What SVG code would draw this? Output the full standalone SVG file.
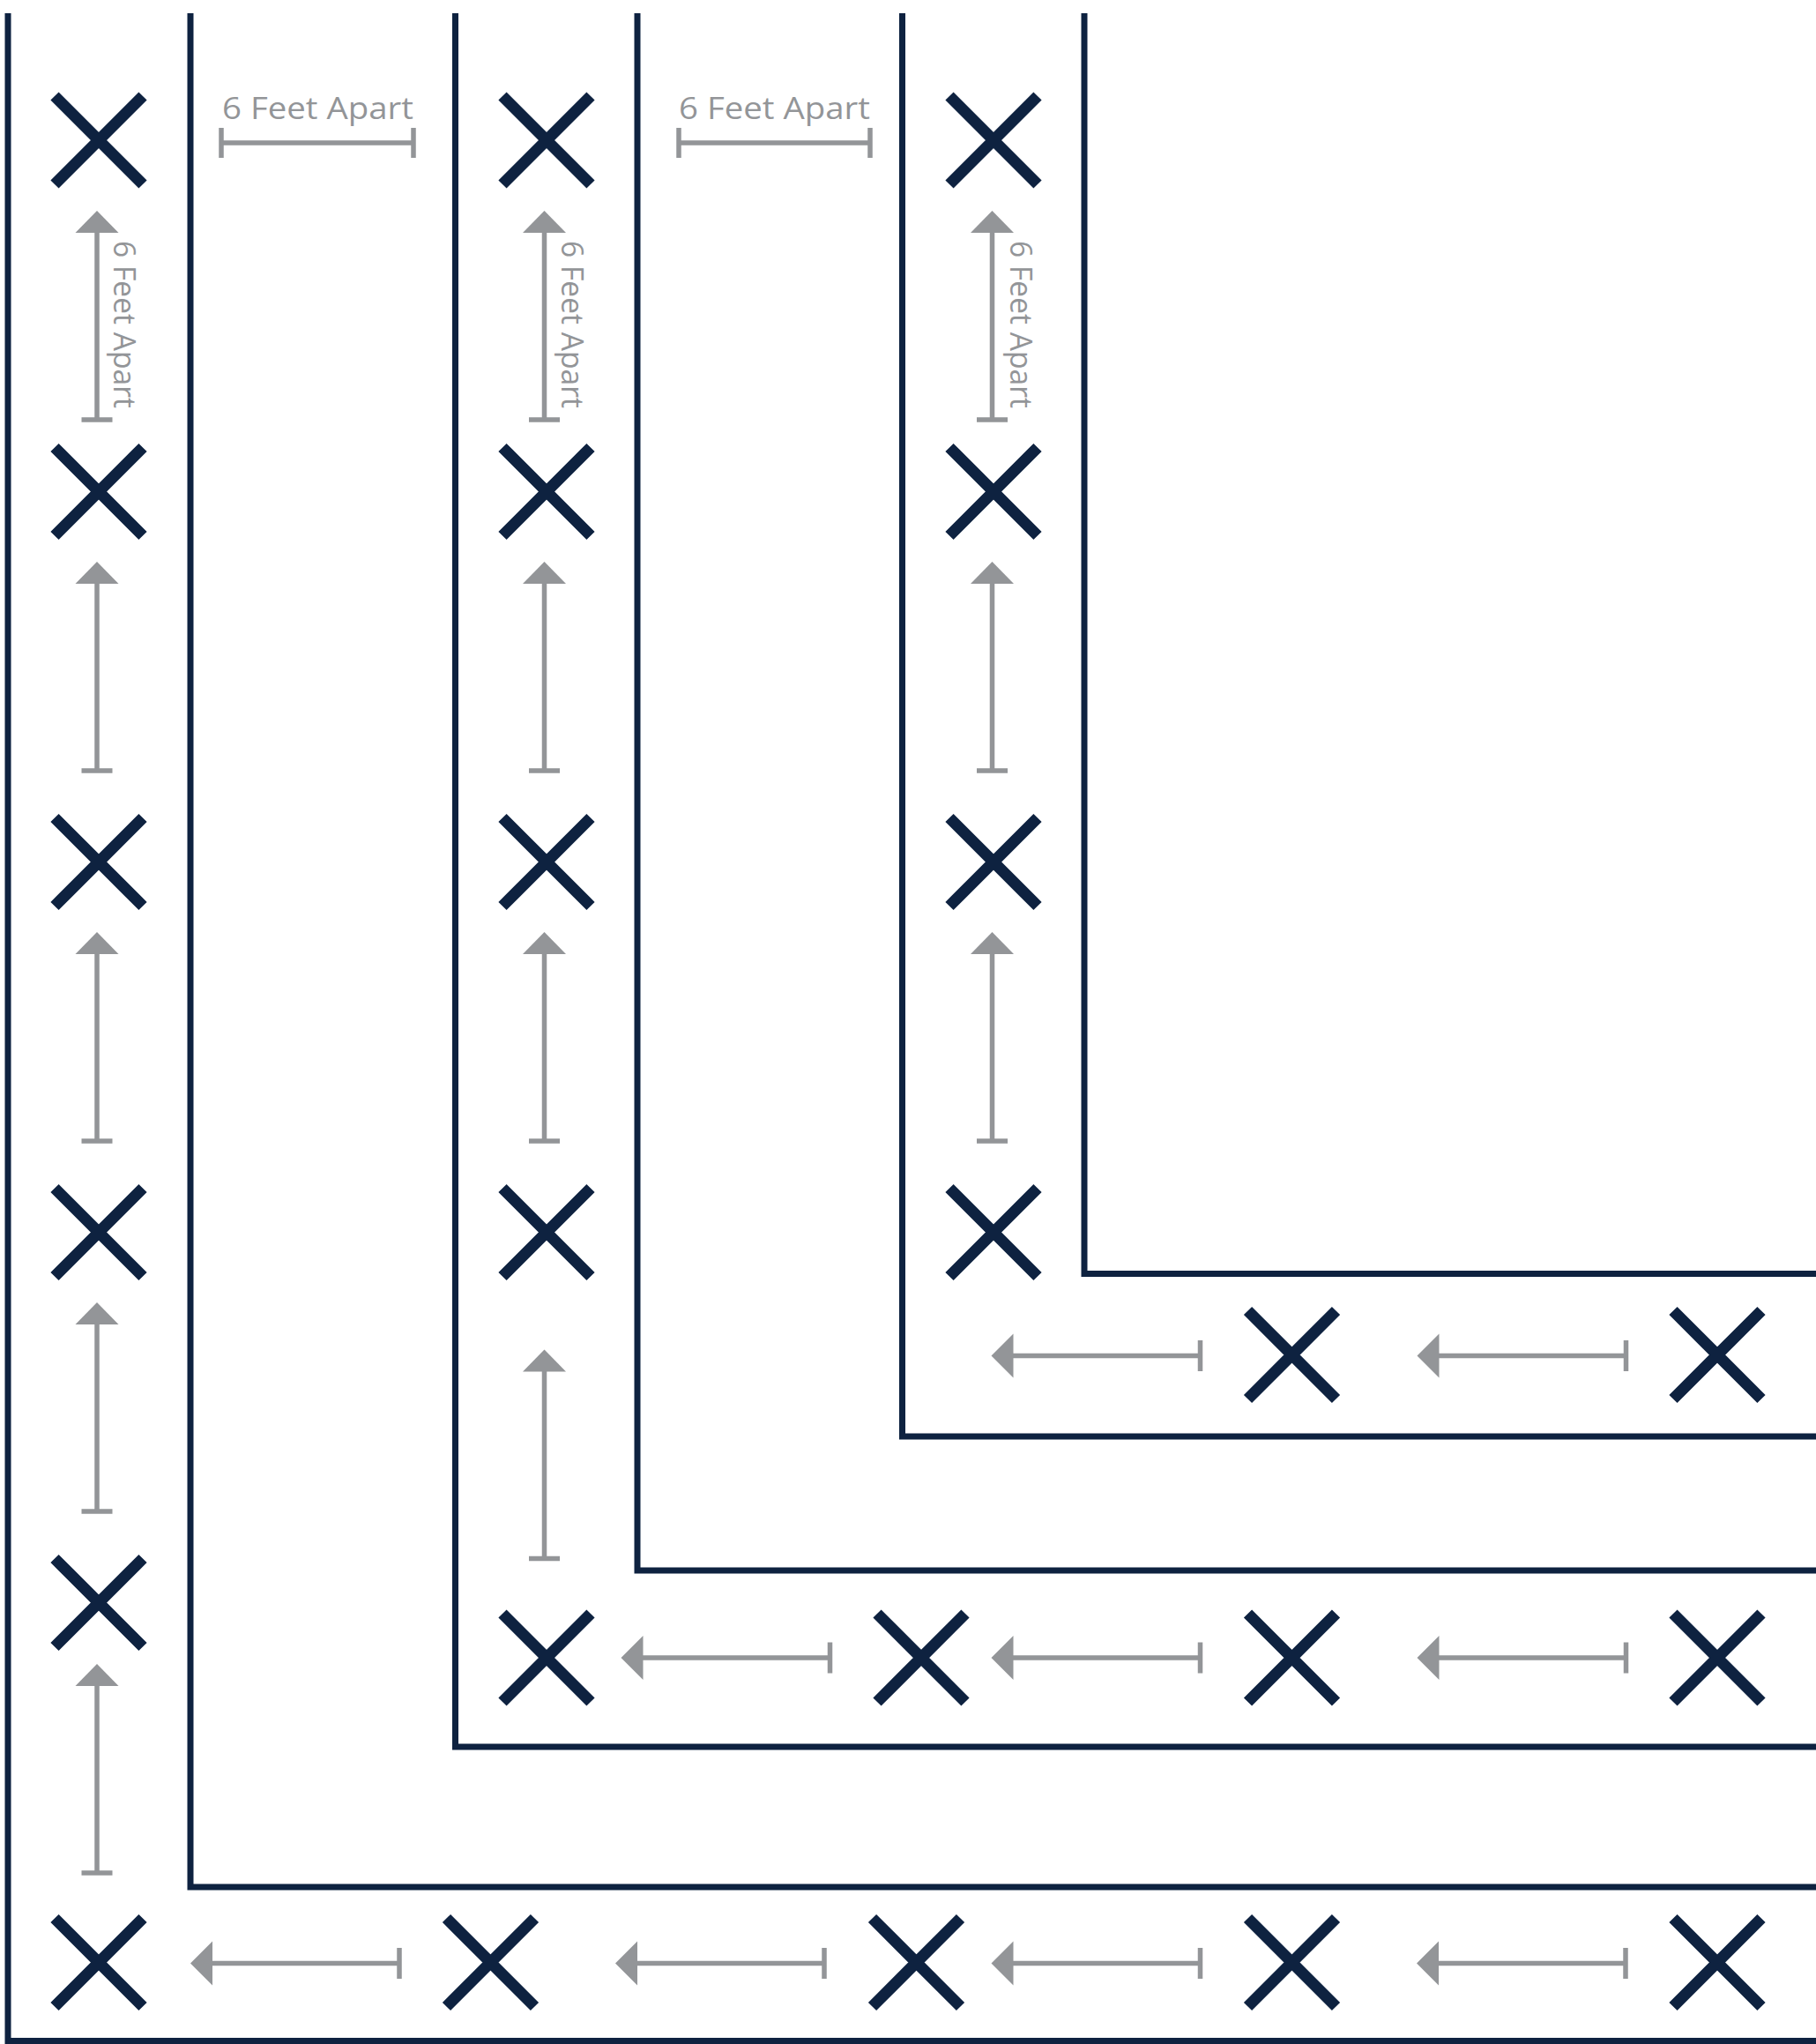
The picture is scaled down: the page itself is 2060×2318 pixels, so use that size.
<svg xmlns="http://www.w3.org/2000/svg" xmlns:xlink="http://www.w3.org/1999/xlink" width="2060" height="2318" viewBox="0 0 2060 2318">
<style>
.wall{fill:none;stroke:#0e2240;stroke-width:7;stroke-linejoin:miter;stroke-linecap:butt}
.xm{fill:none;stroke:#0e2240;stroke-width:13;stroke-linecap:butt}
.gl{fill:none;stroke:#939598;stroke-width:5.5;stroke-linecap:butt}
.gh{fill:#939598;stroke:none}
.lbl{font-family:"Open Sans","Liberation Sans",sans-serif;font-size:35px;fill:#939598}
</style>
<defs>
<path id="xmark" class="xm" d="M-50,-50 L50,50 M50,-50 L-50,50"/>
<g id="arrowUp"><path class="gh" d="M0,0 L24.5,25 L-24.5,25 Z"/><path class="gl" d="M0,24 V237 M-17.5,237 H17.5"/></g>
<g id="arrowLeft"><path class="gh" d="M0,0 L25,-25 L25,25 Z"/><path class="gl" d="M24,0 H237 M237,-17.5 V17.5"/></g>
</defs>
<rect width="2060" height="2318" fill="#ffffff"/>
<g id="walls">
<path class="wall" d="M9,15 V2314.5 H2060"/>
<path class="wall" d="M216,15 V2140 H2060"/>
<path class="wall" d="M516.5,15 V1981 H2060"/>
<path class="wall" d="M723,15 V1781 H2060"/>
<path class="wall" d="M1023.5,15 V1629 H2060"/>
<path class="wall" d="M1230,15 V1444.5 H2060"/>
</g>
<g id="marks">
<g id="lane1-x">
<use xlink:href="#xmark" href="#xmark" x="112" y="159"/>
<use xlink:href="#xmark" href="#xmark" x="112" y="557.5"/>
<use xlink:href="#xmark" href="#xmark" x="112" y="977.5"/>
<use xlink:href="#xmark" href="#xmark" x="112" y="1397.5"/>
<use xlink:href="#xmark" href="#xmark" x="112" y="1817.5"/>
<use xlink:href="#xmark" href="#xmark" x="112" y="2225.5"/>
<use xlink:href="#xmark" href="#xmark" x="556.5" y="2225.5"/>
<use xlink:href="#xmark" href="#xmark" x="1039.5" y="2225.5"/>
<use xlink:href="#xmark" href="#xmark" x="1465.5" y="2225.5"/>
<use xlink:href="#xmark" href="#xmark" x="1948" y="2225.5"/>
</g>
<g id="lane2-x">
<use xlink:href="#xmark" href="#xmark" x="620" y="159"/>
<use xlink:href="#xmark" href="#xmark" x="620" y="557.5"/>
<use xlink:href="#xmark" href="#xmark" x="620" y="977.5"/>
<use xlink:href="#xmark" href="#xmark" x="620" y="1397.5"/>
<use xlink:href="#xmark" href="#xmark" x="620" y="1880"/>
<use xlink:href="#xmark" href="#xmark" x="1045" y="1880"/>
<use xlink:href="#xmark" href="#xmark" x="1465.5" y="1880"/>
<use xlink:href="#xmark" href="#xmark" x="1948" y="1880"/>
</g>
<g id="lane3-x">
<use xlink:href="#xmark" href="#xmark" x="1127" y="159"/>
<use xlink:href="#xmark" href="#xmark" x="1127" y="557.5"/>
<use xlink:href="#xmark" href="#xmark" x="1127" y="977.5"/>
<use xlink:href="#xmark" href="#xmark" x="1127" y="1397.5"/>
<use xlink:href="#xmark" href="#xmark" x="1465.5" y="1536.5"/>
<use xlink:href="#xmark" href="#xmark" x="1948" y="1536.5"/>
</g>
</g>
<g id="connectors">
<use xlink:href="#arrowUp" href="#arrowUp" x="110" y="239"/>
<use xlink:href="#arrowUp" href="#arrowUp" x="110" y="637"/>
<use xlink:href="#arrowUp" href="#arrowUp" x="110" y="1057"/>
<use xlink:href="#arrowUp" href="#arrowUp" x="110" y="1477"/>
<use xlink:href="#arrowUp" href="#arrowUp" x="110" y="1887"/>
<use xlink:href="#arrowUp" href="#arrowUp" x="617.5" y="239"/>
<use xlink:href="#arrowUp" href="#arrowUp" x="617.5" y="637"/>
<use xlink:href="#arrowUp" href="#arrowUp" x="617.5" y="1057"/>
<use xlink:href="#arrowUp" href="#arrowUp" x="617.5" y="1530.5"/>
<use xlink:href="#arrowUp" href="#arrowUp" x="1125.5" y="239"/>
<use xlink:href="#arrowUp" href="#arrowUp" x="1125.5" y="637"/>
<use xlink:href="#arrowUp" href="#arrowUp" x="1125.5" y="1057"/>
<use xlink:href="#arrowLeft" href="#arrowLeft" x="216" y="2226.5"/>
<use xlink:href="#arrowLeft" href="#arrowLeft" x="698" y="2226.5"/>
<use xlink:href="#arrowLeft" href="#arrowLeft" x="1124.5" y="2226.5"/>
<use xlink:href="#arrowLeft" href="#arrowLeft" x="1607" y="2226.5"/>
<use xlink:href="#arrowLeft" href="#arrowLeft" x="704.5" y="1880"/>
<use xlink:href="#arrowLeft" href="#arrowLeft" x="1124.5" y="1880"/>
<use xlink:href="#arrowLeft" href="#arrowLeft" x="1607.5" y="1880"/>
<use xlink:href="#arrowLeft" href="#arrowLeft" x="1124.5" y="1537.5"/>
<use xlink:href="#arrowLeft" href="#arrowLeft" x="1607.5" y="1537.5"/>
</g>
<g id="dimensions">
<path class="gl" d="M251,162 H469 M251,145 V179 M469,145 V179"/>
<path class="gl" d="M770,162 H987 M770,145 V179 M987,145 V179"/>
<text class="lbl" x="252" y="135" textLength="217" lengthAdjust="spacingAndGlyphs">6 Feet Apart</text>
<text class="lbl" x="770" y="135" textLength="217" lengthAdjust="spacingAndGlyphs">6 Feet Apart</text>
<text class="lbl" transform="translate(128.5,273) rotate(90)" textLength="190" lengthAdjust="spacingAndGlyphs">6 Feet Apart</text>
<text class="lbl" transform="translate(637,273) rotate(90)" textLength="190" lengthAdjust="spacingAndGlyphs">6 Feet Apart</text>
<text class="lbl" transform="translate(1146,273) rotate(90)" textLength="190" lengthAdjust="spacingAndGlyphs">6 Feet Apart</text>
</g>
</svg>
